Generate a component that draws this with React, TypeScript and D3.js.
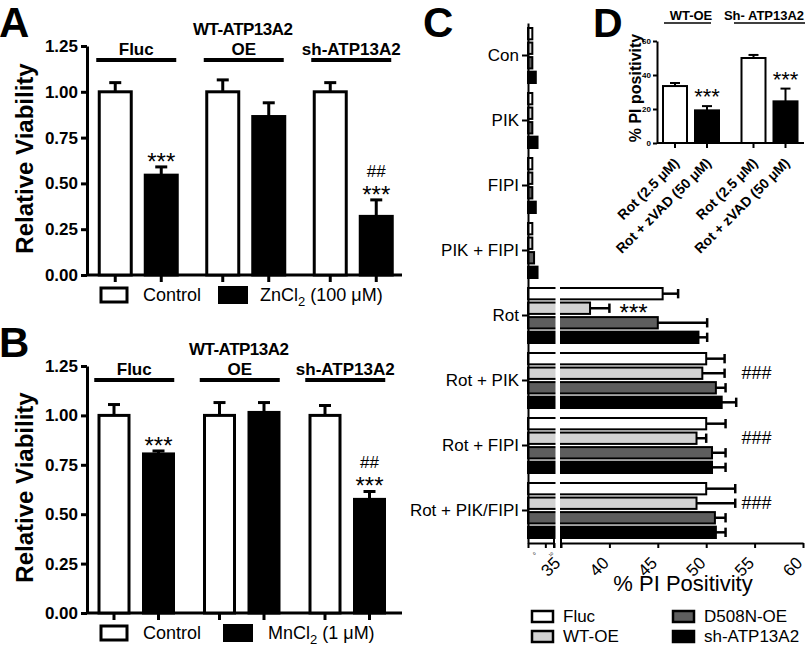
import React, { useEffect, useRef } from "react";
import * as d3 from "d3";

const FONT = "'Liberation Sans', Arial, Helvetica, sans-serif";

// panels A and B
const cellGroups = ["Fluc", "OE", "sh-ATP13A2"];
const viabilityTicks = [0, 0.25, 0.5, 0.75, 1, 1.25];

const controlA = [1.0, 1.0, 1.0];
const controlErrA = [0.05, 0.065, 0.05];
const zincA = [0.545, 0.865, 0.32];
const zincErrA = [0.045, 0.075, 0.09];
const starsA = ["***", "", "***"];
const hashA = ["", "", "##"];

const controlB = [1.0, 1.0, 1.0];
const controlErrB = [0.055, 0.065, 0.05];
const manganeseB = [0.805, 1.015, 0.575];
const manganeseErrB = [0.015, 0.05, 0.04];
const starsB = ["***", "", "***"];
const hashB = ["", "", "##"];

// panel C
const treatments = ["Con", "PIK", "FIPI", "PIK + FIPI", "Rot", "Rot + PIK", "Rot + FIPI", "Rot + PIK/FIPI"];
const cellLinesC = ["Fluc", "WT-OE", "D508N-OE", "sh-ATP13A2"];
const fillsC = ["#ffffff", "#d2d2d2", "#5e5e5e", "#000000"];
const flucC = [2.5, 2.5, 2.5, 2.5, 45.5, 50, 50, 50];
const flucErrC = [0, 0, 0, 0, 1.6, 1.9, 2, 3];
const wtC = [2.5, 2.5, 2.5, 2.5, 38, 49.6, 49, 49];
const wtErrC = [0, 0, 0, 0, 2, 2.3, 1, 4];
const d508nC = [2.5, 2.5, 2.5, 3.5, 45, 51, 50.6, 50.9];
const d508nErrC = [0, 0, 0, 0, 5.1, 1, 1.4, 1.1];
const shC = [4.5, 5.5, 4.5, 5.5, 49.2, 51.6, 50.6, 51];
const shErrC = [0, 0, 0, 0, 0.9, 1.5, 1.4, 1];
const starsC = ["", "", "", "", "***", "", "", ""];
const hashC = ["", "", "", "", "", "###", "###", "###"];
const lowTicksC = [0, 10, 15];
const highTicksC = [35, 40, 45, 50, 55, 60];

// panel D
const groupsD = ["WT-OE", "Sh- ATP13A2"];
const conditionsD = ["Rot (2.5 μM)", "Rot + zVAD (50 μM)"];
const rotD = [33.5, 50];
const rotErrD = [1.8, 1.8];
const zvadD = [19.2, 24.5];
const zvadErrD = [2.5, 7.5];
const starsD = ["***", "***"];
const ticksD = [0, 20, 40, 60];

const styleAxis = (ax, width, size, weight = "normal") => {
  ax.select(".domain").attr("stroke-width", width).attr("stroke", "#000");
  ax.selectAll(".tick line").attr("stroke-width", width).attr("stroke", "#000");
  ax.selectAll(".tick text")
    .attr("font-family", FONT)
    .attr("font-size", size)
    .attr("font-weight", weight)
    .attr("fill", "#000");
};

const drawViability = (svg, o) => {
  const g = svg.append("g");
  const y = d3.scaleLinear().domain([0, 1.25]).range([o.bottom, o.top]);
  const x0 = d3.scaleBand().domain(cellGroups).range(o.groupRange);
  const step = o.barWidth + o.barGap;
  const pad = o.barGap / step;
  const span = step * (2 - pad);
  const mid = x0.bandwidth() / 2;
  const x1 = d3
    .scaleBand()
    .domain(["control", "treated"])
    .range([mid - span / 2, mid + span / 2])
    .paddingInner(pad);
  const bw = x1.bandwidth();

  g.append("text")
    .attr("x", -1)
    .attr("y", o.top - 9)
    .attr("font-family", FONT)
    .attr("font-size", 42)
    .attr("font-weight", "bold")
    .text(o.letter);

  const yAxis = g
    .append("g")
    .attr("transform", `translate(${o.axisX},0)`)
    .call(d3.axisLeft(y).tickValues(viabilityTicks).tickFormat(d3.format(".2f")).tickSize(6).tickSizeOuter(0).tickPadding(3));
  styleAxis(yAxis, 3, 17, "bold");

  g.append("text")
    .attr("transform", `translate(33,${(o.top + o.bottom) / 2 - 2}) rotate(-90)`)
    .attr("text-anchor", "middle")
    .attr("font-family", FONT)
    .attr("font-size", 24)
    .attr("font-weight", "bold")
    .text("Relative Viability");

  g.append("line")
    .attr("x1", o.axisX)
    .attr("x2", o.axisEnd)
    .attr("y1", o.bottom)
    .attr("y2", o.bottom)
    .attr("stroke", "#000")
    .attr("stroke-width", 3);

  cellGroups.forEach((name, i) => {
    const gx = x0(name);
    const center = gx + mid;
    const bars = [
      { key: "control", v: o.control[i], e: o.controlErr[i], fill: "#fff" },
      { key: "treated", v: o.treated[i], e: o.treatedErr[i], fill: "#000" },
    ];
    bars.forEach((b) => {
      const bx = gx + x1(b.key);
      const cx = bx + bw / 2;
      g.append("rect")
        .attr("x", bx)
        .attr("y", y(b.v))
        .attr("width", bw)
        .attr("height", o.bottom - y(b.v))
        .attr("fill", b.fill)
        .attr("stroke", "#000")
        .attr("stroke-width", 3);
      g.append("line")
        .attr("x1", cx).attr("x2", cx)
        .attr("y1", y(b.v)).attr("y2", y(b.v + b.e))
        .attr("stroke", "#000").attr("stroke-width", 3);
      g.append("line")
        .attr("x1", cx - 6).attr("x2", cx + 6)
        .attr("y1", y(b.v + b.e)).attr("y2", y(b.v + b.e))
        .attr("stroke", "#000").attr("stroke-width", 3);
      g.append("line")
        .attr("x1", cx).attr("x2", cx)
        .attr("y1", o.bottom).attr("y2", o.bottom + 7)
        .attr("stroke", "#000").attr("stroke-width", 3);
    });

    const tx = gx + x1("treated") + bw / 2;
    const top = y(o.treated[i] + o.treatedErr[i]);
    if (o.stars[i]) {
      g.append("text")
        .attr("x", tx).attr("y", top + 3)
        .attr("text-anchor", "middle")
        .attr("font-family", FONT).attr("font-size", 24)
        .text(o.stars[i]);
    }
    if (o.hashes[i]) {
      g.append("text")
        .attr("x", tx).attr("y", top - 23)
        .attr("text-anchor", "middle")
        .attr("font-family", FONT).attr("font-size", 17)
        .text(o.hashes[i]);
    }

    g.append("text")
      .attr("x", center - 2)
      .attr("y", o.top + 9)
      .attr("text-anchor", "middle")
      .attr("font-family", FONT)
      .attr("font-size", 17)
      .attr("font-weight", "bold")
      .text(name);
    g.append("line")
      .attr("x1", center - 42).attr("x2", center + 38)
      .attr("y1", o.top + 14).attr("y2", o.top + 14)
      .attr("stroke", "#000").attr("stroke-width", 4);
  });

  g.append("text")
    .attr("x", x0("OE") + mid - 3)
    .attr("y", o.top - 11)
    .attr("text-anchor", "middle")
    .attr("font-family", FONT)
    .attr("font-size", 17)
    .attr("font-weight", "bold")
    .attr("letter-spacing", -0.5)
    .text("WT-ATP13A2");

  // legend
  const ly = o.bottom + 20;
  g.append("rect")
    .attr("x", 101).attr("y", ly - 7).attr("width", 26).attr("height", 14)
    .attr("fill", "#fff").attr("stroke", "#000").attr("stroke-width", 3);
  g.append("text")
    .attr("x", 143).attr("y", ly + 6)
    .attr("font-family", FONT).attr("font-size", 18)
    .text("Control");
  g.append("rect")
    .attr("x", o.blackX).attr("y", ly - 9).attr("width", 30).attr("height", 18)
    .attr("fill", "#000");
  const lt = g.append("text")
    .attr("x", o.textX).attr("y", ly + 6)
    .attr("font-family", FONT).attr("font-size", 18);
  lt.append("tspan").text(o.salt);
  lt.append("tspan").attr("dy", 5).attr("font-size", 13).text("2");
  lt.append("tspan").attr("dy", -5).text(o.dose);
};

const drawPanelC = (svg) => {
  const g = svg.append("g");
  const yC = d3.scaleBand().domain(treatments).range([23, 543]);
  const yIn = d3.scaleBand().domain(cellLinesC).range([5, 60]).paddingInner(0.22);
  const bh = yIn.bandwidth();
  const xLow = d3.scaleLinear().domain([0, 15]).range([528, 554]);
  const xHigh = d3.scaleLinear().domain([35, 60]).range([561, 803]);
  const xC = (v) => (v < 20 ? xLow(v) : xHigh(v));
  const series = [
    { v: flucC, e: flucErrC },
    { v: wtC, e: wtErrC },
    { v: d508nC, e: d508nErrC },
    { v: shC, e: shErrC },
  ];

  g.append("text")
    .attr("x", 423).attr("y", 37)
    .attr("font-family", FONT).attr("font-size", 42).attr("font-weight", "bold")
    .text("C");

  treatments.forEach((t, i) => {
    series.forEach((s, k) => {
      const by = yC(t) + yIn(cellLinesC[k]);
      const end = xC(s.v[i]);
      g.append("rect")
        .attr("x", 528).attr("y", by)
        .attr("width", end - 528).attr("height", bh)
        .attr("fill", fillsC[k]).attr("stroke", "#000").attr("stroke-width", 2);
      if (s.e[i] > 0) {
        const ee = xC(s.v[i] + s.e[i]);
        g.append("line")
          .attr("x1", end).attr("x2", ee)
          .attr("y1", by + bh / 2).attr("y2", by + bh / 2)
          .attr("stroke", "#000").attr("stroke-width", 2.5);
        g.append("line")
          .attr("x1", ee).attr("x2", ee)
          .attr("y1", by + 1).attr("y2", by + bh - 1)
          .attr("stroke", "#000").attr("stroke-width", 2.5);
      }
    });
    const wy = yC(t) + yIn("WT-OE") + bh / 2;
    if (starsC[i]) {
      g.append("text")
        .attr("x", xHigh(42.5)).attr("y", wy + 13)
        .attr("text-anchor", "middle")
        .attr("font-family", FONT).attr("font-size", 24)
        .text(starsC[i]);
    }
    if (hashC[i]) {
      g.append("text")
        .attr("x", xHigh(55.2)).attr("y", wy + 6)
        .attr("text-anchor", "middle")
        .attr("font-family", FONT).attr("font-size", 18)
        .text(hashC[i]);
    }
  });

  // axis break
  g.append("rect")
    .attr("x", 555.5).attr("y", yC("Rot") - 2)
    .attr("width", 4.5).attr("height", 543 - yC("Rot"))
    .attr("fill", "#fff");

  const yAxis = g
    .append("g")
    .attr("transform", "translate(528,0)")
    .call(d3.axisLeft(yC).tickSize(6).tickSizeOuter(0).tickPadding(3));
  styleAxis(yAxis, 2, 17);

  const lowAxis = g
    .append("g")
    .attr("transform", "translate(0,543)")
    .call(d3.axisBottom(xLow).tickValues(lowTicksC).tickFormat((d) => (d === 15 ? "" : String(d))).tickSize(5).tickSizeOuter(0));
  styleAxis(lowAxis, 2, 4);
  lowAxis.selectAll(".tick text")
    .attr("text-anchor", "end")
    .attr("transform", "translate(0,3) rotate(-45)");

  const highAxis = g
    .append("g")
    .attr("transform", "translate(0,543)")
    .call(d3.axisBottom(xHigh).tickValues(highTicksC).tickSize(5).tickSizeOuter(0));
  styleAxis(highAxis, 2, 17);
  highAxis.selectAll(".tick text")
    .attr("text-anchor", "end")
    .attr("dy", 0)
    .attr("y", 0)
    .attr("transform", "translate(0,21) rotate(-45)");
  [554, 561].forEach((bx) => {
    g.append("line")
      .attr("x1", bx).attr("x2", bx).attr("y1", 537).attr("y2", 548)
      .attr("stroke", "#000").attr("stroke-width", 2);
  });

  g.append("text")
    .attr("x", 683).attr("y", 591)
    .attr("text-anchor", "middle")
    .attr("font-family", FONT).attr("font-size", 22)
    .text("% PI Positivity");

  // legend, two columns
  cellLinesC.forEach((name, k) => {
    const col = k < 2 ? 0 : 1;
    const row = k % 2;
    const sx = col === 0 ? 532 : 673;
    const sy = row === 0 ? 611 : 631;
    g.append("rect")
      .attr("x", sx).attr("y", sy).attr("width", 21).attr("height", 11)
      .attr("fill", fillsC[k]).attr("stroke", "#000").attr("stroke-width", 2.5);
    g.append("text")
      .attr("x", sx + 31).attr("y", sy + 11)
      .attr("font-family", FONT).attr("font-size", 17)
      .text(name);
  });
};

const drawPanelD = (svg) => {
  const g = svg.append("g");
  const y = d3.scaleLinear().domain([0, 60]).range([143, 41]);
  const x0 = d3.scaleBand().domain(groupsD).range([652, 809]);
  const x1 = d3.scaleBand().domain(conditionsD).range([11, 67]).paddingInner(0.25);
  const bw = x1.bandwidth();

  g.append("text")
    .attr("x", 593).attr("y", 37)
    .attr("font-family", FONT).attr("font-size", 41).attr("font-weight", "bold")
    .text("D");

  const yAxis = g
    .append("g")
    .attr("transform", "translate(657,0)")
    .call(d3.axisLeft(y).tickValues(ticksD).tickSize(4).tickSizeOuter(0).tickPadding(2));
  styleAxis(yAxis, 2, 8, "bold");

  g.append("text")
    .attr("transform", "translate(641,88) rotate(-90)")
    .attr("text-anchor", "middle")
    .attr("font-family", FONT).attr("font-size", 16).attr("font-weight", "bold")
    .text("% PI positivity");

  g.append("line")
    .attr("x1", 657).attr("x2", 804).attr("y1", 143).attr("y2", 143)
    .attr("stroke", "#000").attr("stroke-width", 2);

  groupsD.forEach((grp, i) => {
    const bars = [
      { c: conditionsD[0], v: rotD[i], e: rotErrD[i], fill: "#fff" },
      { c: conditionsD[1], v: zvadD[i], e: zvadErrD[i], fill: "#000" },
    ];
    bars.forEach((b, k) => {
      const bx = x0(grp) + x1(b.c);
      const cx = bx + bw / 2;
      g.append("rect")
        .attr("x", bx).attr("y", y(b.v))
        .attr("width", bw).attr("height", 143 - y(b.v))
        .attr("fill", b.fill).attr("stroke", "#000").attr("stroke-width", 2);
      g.append("line")
        .attr("x1", cx).attr("x2", cx).attr("y1", y(b.v)).attr("y2", y(b.v + b.e))
        .attr("stroke", "#000").attr("stroke-width", 2);
      g.append("line")
        .attr("x1", cx - 5).attr("x2", cx + 5).attr("y1", y(b.v + b.e)).attr("y2", y(b.v + b.e))
        .attr("stroke", "#000").attr("stroke-width", 2);
      g.append("line")
        .attr("x1", cx).attr("x2", cx).attr("y1", 143).attr("y2", 148)
        .attr("stroke", "#000").attr("stroke-width", 2);
      g.append("text")
        .attr("transform", `translate(${cx + 5},164) rotate(-45)`)
        .attr("text-anchor", "end")
        .attr("font-family", FONT).attr("font-size", 14).attr("font-weight", "bold")
        .text(b.c);
      if (k === 1 && starsD[i]) {
        g.append("text")
          .attr("x", cx).attr("y", y(b.v + b.e) - 2)
          .attr("text-anchor", "middle")
          .attr("font-family", FONT).attr("font-size", 22)
          .text(starsD[i]);
      }
    });
  });

  const heads = [
    { t: groupsD[0], x: 691, l1: 664, l2: 711 },
    { t: groupsD[1], x: 764, l1: 734, l2: 805 },
  ];
  heads.forEach((h) => {
    g.append("text")
      .attr("x", h.x).attr("y", 20)
      .attr("text-anchor", "middle")
      .attr("font-family", FONT).attr("font-size", 13).attr("font-weight", "bold")
      .text(h.t);
    g.append("line")
      .attr("x1", h.l1).attr("x2", h.l2).attr("y1", 23).attr("y2", 23)
      .attr("stroke", "#000").attr("stroke-width", 1.5);
  });
};

const App = () => {
  const ref = useRef(null);

  useEffect(() => {
    const svg = d3.select(ref.current);
    svg.selectAll("*").remove();

    drawViability(svg, {
      letter: "A",
      top: 46,
      bottom: 275,
      axisX: 87,
      axisEnd: 402,
      groupRange: [84.5, 407],
      barWidth: 32,
      barGap: 14,
      control: controlA,
      controlErr: controlErrA,
      treated: zincA,
      treatedErr: zincErrA,
      stars: starsA,
      hashes: hashA,
      blackX: 218,
      textX: 260,
      salt: "ZnCl",
      dose: " (100 μM)",
    });

    drawViability(svg, {
      letter: "B",
      top: 366,
      bottom: 613,
      axisX: 87,
      axisEnd: 402,
      groupRange: [83.5, 400],
      barWidth: 30,
      barGap: 14.5,
      control: controlB,
      controlErr: controlErrB,
      treated: manganeseB,
      treatedErr: manganeseErrB,
      stars: starsB,
      hashes: hashB,
      blackX: 223,
      textX: 268,
      salt: "MnCl",
      dose: " (1 μM)",
    });

    drawPanelC(svg);
    drawPanelD(svg);
  }, []);

  return (
    <svg
      ref={ref}
      width={807}
      height={647}
      style={{ position: "absolute", left: 0, top: 0, background: "#fff" }}
    />
  );
};

export default App;
